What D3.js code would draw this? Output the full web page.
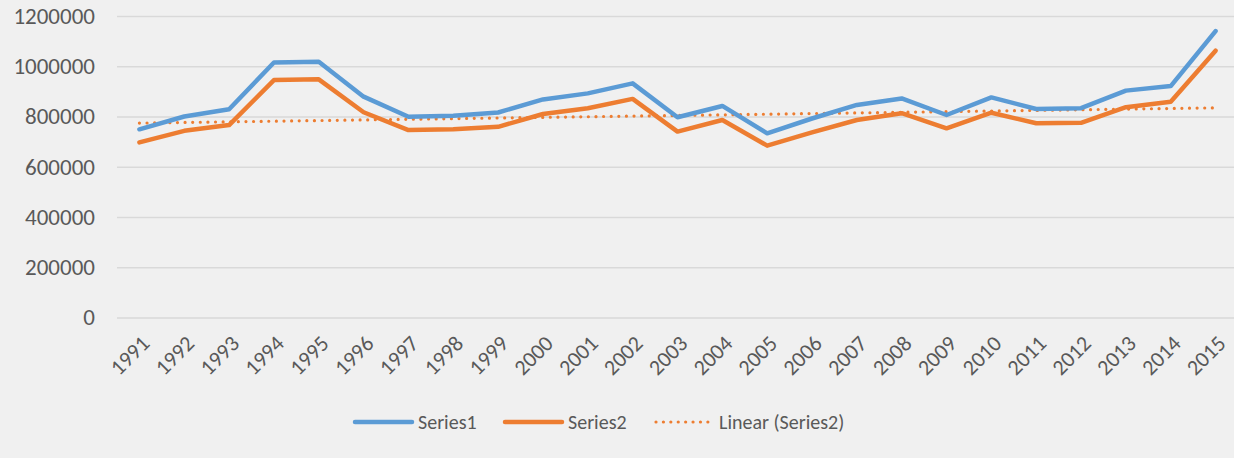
<!DOCTYPE html>
<html>
<head>
<meta charset="utf-8">
<script src="https://d3js.org/d3.v7.min.js"></script>
<style>
  body { margin: 0; background: #f0f0f0; }
  svg { display: block; background: #f0f0f0; }
  text { font-family: Carlito, Calibri, "Open Sans", sans-serif; fill: #595959; }
</style>
</head>
<body>
<div id="chart"></div>
<script>
const years = ["1991","1992","1993","1994","1995","1996","1997","1998","1999","2000","2001","2002","2003",
  "2004","2005","2006","2007","2008","2009","2010","2011","2012","2013","2014","2015"];
const series1 = [749000, 800000, 829000, 1015000, 1018000, 879000, 799000, 803000, 816000, 868000, 892000, 932000, 797000,
  842000, 733000, 792000, 846000, 872000, 806000, 876000, 830000, 833000, 903000, 921000, 1140000];
const series2 = [697000, 743000, 766000, 945000, 948000, 817000, 746000, 749000, 759000, 810000, 833000, 870000, 740000,
  786000, 684000, 737000, 786000, 813000, 753000, 815000, 773000, 775000, 837000, 859000, 1062000];
const yTicks = [0, 200000, 400000, 600000, 800000, 1000000, 1200000];
const legendLabels = ["Series1", "Series2", "Linear (Series2)"];

const W = 1234, H = 458;
const plot = { left: 117, right: 1238, top: 16, bottom: 317.5 };

const svg = d3.select("#chart").append("svg")
  .attr("width", W)
  .attr("height", H);

const x = d3.scalePoint().domain(years).range([plot.left, plot.right]).padding(0.5);
const y = d3.scaleLinear().domain([0, 1200000]).range([plot.bottom, plot.top]);

// gridlines + y labels
const yAxis = svg.append("g")
  .attr("transform", `translate(${plot.left},0)`)
  .call(d3.axisLeft(y).tickValues(yTicks).tickFormat(d3.format("d"))
    .tickSize(-(plot.right - plot.left)).tickPadding(22));
yAxis.select(".domain").remove();
yAxis.selectAll(".tick line").attr("stroke", "#d9d9d9").attr("stroke-width", 1.3);
yAxis.selectAll(".tick text").style("font-size", "23px").attr("fill", "#595959");

// x labels rotated
svg.append("g").selectAll("text")
  .data(years)
  .enter().append("text")
  .attr("transform", d => `translate(${x(d) + 6},${plot.bottom + 22}) rotate(-45)`)
  .attr("text-anchor", "end")
  .attr("dy", "0.35em")
  .style("font-size", "22px")
  .text(d => d);

// linear trend of series2 (least squares, as the spreadsheet trendline)
const idx = series2.map((_, i) => i + 1);
const mx = d3.mean(idx), my = d3.mean(series2);
const slope = d3.sum(idx, (t, i) => (t - mx) * (series2[i] - my)) / d3.sum(idx, t => (t - mx) ** 2);
const icpt = my - slope * mx;
const trend = idx.map(t => icpt + slope * t);

const line = d3.line().x((d, i) => x(years[i])).y(d => y(d));

svg.append("path")
  .attr("d", line(trend))
  .attr("fill", "none")
  .attr("stroke", "#ed7d31")
  .attr("stroke-width", 3.2)
  .attr("stroke-linecap", "round")
  .attr("stroke-dasharray", "0.01 7.6");

svg.append("path")
  .attr("d", line(series1))
  .attr("fill", "none")
  .attr("stroke", "#5b9bd5")
  .attr("stroke-width", 4.5)
  .attr("stroke-linejoin", "round")
  .attr("stroke-linecap", "round");

svg.append("path")
  .attr("d", line(series2))
  .attr("fill", "none")
  .attr("stroke", "#ed7d31")
  .attr("stroke-width", 4.5)
  .attr("stroke-linejoin", "round")
  .attr("stroke-linecap", "round");

// legend
const legendY = 422;
const legendItems = [
  { x: 355, color: "#5b9bd5", dash: null, width: 4.5 },
  { x: 505, color: "#ed7d31", dash: null, width: 4.5 },
  { x: 656, color: "#ed7d31", dash: "0.01 7.4", width: 3.2 }
];
const lg = svg.append("g").selectAll("g")
  .data(legendItems)
  .enter().append("g");
lg.append("line")
  .attr("x1", d => d.x).attr("x2", d => d.x + 57)
  .attr("y1", legendY).attr("y2", legendY)
  .attr("stroke", d => d.color)
  .attr("stroke-width", d => d.width)
  .attr("stroke-linecap", "round")
  .attr("stroke-dasharray", d => d.dash);
lg.append("text")
  .attr("x", d => d.x + 63)
  .attr("y", legendY)
  .attr("dy", "0.35em")
  .style("font-size", "20px")
  .text((d, i) => legendLabels[i]);
</script>
</body>
</html>
